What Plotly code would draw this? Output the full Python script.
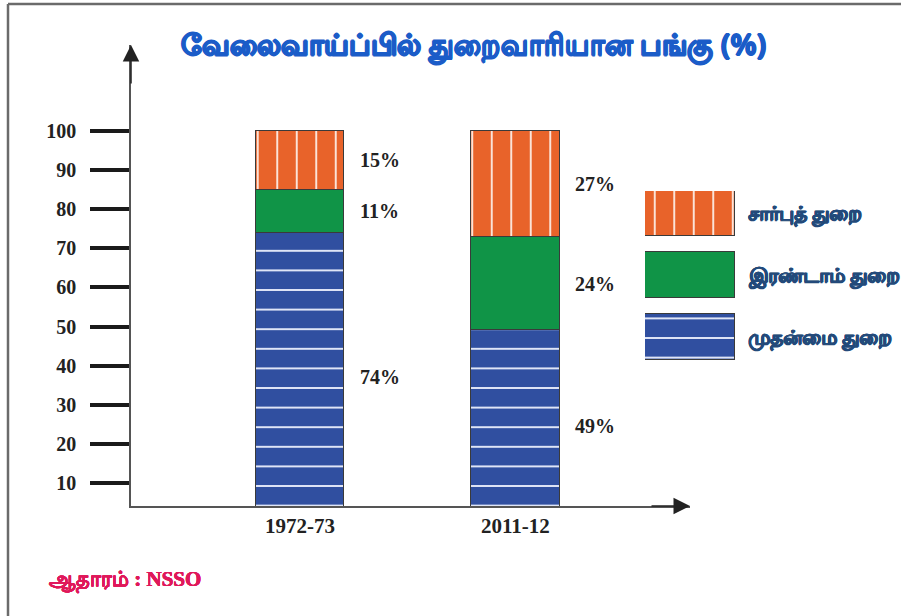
import plotly.graph_objects as go

# ---------------- data ----------------
years = ["1972-73", "2011-12"]
sectors = ["முதன்மை துறை", "இரண்டாம் துறை", "சார்புத் துறை"]
primary = [74, 49]
secondary = [11, 24]
tertiary = [15, 27]
y_ticks = [10, 20, 30, 40, 50, 60, 70, 80, 90, 100]
title_text = "வேலைவாய்ப்பில் துறைவாரியான பங்கு (%)"
source_text = "ஆதாரம் : NSSO"

# ---------------- style ----------------
W, H = 901, 616
PL, PR, PT, PB = 131, 690, 45, 506   # plot area in pixels

ORANGE = "#E8632A"
GREEN = "#109447"
BLUE = "#304FA0"
EDGE = "#3a3a3a"
SERIF = "Liberation Serif, DejaVu Serif, serif"
SANS = "Noto Sans, DejaVu Sans, sans-serif"

def px_x(px):
    return px / W

def px_y(py):
    return (H - py) / H

def thick(color, d=0.7):
    return f"{d}px 0 0 {color}, -{d}px 0 0 {color}, 0 {d}px 0 {color}, 0 -{d}px 0 {color}"

series = [
    (sectors[0], primary, BLUE, dict(shape="-", fgcolor="#dfe5f7", bgcolor=BLUE, size=19.6, solidity=0.1, fillmode="replace")),
    (sectors[1], secondary, GREEN, dict(shape="")),
    (sectors[2], tertiary, ORANGE, dict(shape="|", fgcolor="#fbe3d8", bgcolor=ORANGE, size=19.5, solidity=0.1, fillmode="replace")),
]

fig = go.Figure()
for name, vals, col, pat in series:
    fig.add_trace(go.Bar(
        x=years, y=vals, name=name, width=0.41,
        marker=dict(color=col, line=dict(color=EDGE, width=1.2), pattern=pat),
        showlegend=False, hoverinfo="skip",
    ))

# legend swatches drawn as bars on an auxiliary axis
for i, (name, vals, col, pat) in enumerate(reversed(series)):
    fig.add_trace(go.Bar(
        x=[1], y=[i], orientation="h", width=0.73, xaxis="x2", yaxis="y2",
        marker=dict(color=col, line=dict(color=EDGE, width=1.2), pattern=pat),
        showlegend=False, hoverinfo="skip",
    ))

annotations = []
# percentage labels
for xi, yr in enumerate(years):
    cum = 0
    for name, vals, col, pat in series:
        v = vals[xi]
        annotations.append(dict(
            x=yr, y=cum + v / 2, xref="x", yref="y", text=f"{v}%",
            showarrow=False, xanchor="left", yanchor="middle", xshift=58,
            font=dict(family=SERIF, size=20, color="#222222", weight="bold"),
        ))
        cum += v

# legend labels
legend_y_px = [213, 275, 337]
for name, ypx in zip(reversed(sectors), legend_y_px):
    annotations.append(dict(
        x=px_x(746), y=px_y(ypx), xref="paper", yref="paper", text=name,
        showarrow=False, xanchor="left", yanchor="middle",
        font=dict(family=SANS, size=20, color="#234a7a", weight="bold",
                  shadow=thick("#234a7a", 0.5)),
    ))

# title
annotations.append(dict(
    x=px_x(474), y=px_y(45), xref="paper", yref="paper", text=title_text,
    showarrow=False, xanchor="center", yanchor="middle",
    font=dict(family=SANS, size=29, color="#1b5cc8", weight="bold",
              shadow=thick("#1b5cc8", 0.6)),
))
# source
annotations.append(dict(
    x=px_x(47), y=px_y(580), xref="paper", yref="paper", text=source_text,
    showarrow=False, xanchor="left", yanchor="middle",
    font=dict(family=SERIF, size=21, color="#e0185a", weight="bold",
              shadow=thick("#e0185a", 0.3)),
))
# axis arrowheads
annotations.append(dict(
    x=px_x(PL), y=px_y(PT), xref="paper", yref="paper", text="", showarrow=True,
    ax=0, ay=40, axref="pixel", ayref="pixel",
    arrowhead=2, arrowsize=2.2, arrowwidth=1.5, arrowcolor="#222222",
))
annotations.append(dict(
    x=px_x(PR), y=px_y(PB), xref="paper", yref="paper", text="", showarrow=True,
    ax=-40, ay=0, axref="pixel", ayref="pixel",
    arrowhead=2, arrowsize=2.2, arrowwidth=1.5, arrowcolor="#222222",
))

shapes = [
    dict(type="line", xref="paper", yref="paper", x0=px_x(8), x1=px_x(901), y0=px_y(4), y1=px_y(4),
         line=dict(color="#6b6b6b", width=2.5)),
    dict(type="line", xref="paper", yref="paper", x0=px_x(8), x1=px_x(8), y0=px_y(4), y1=px_y(616),
         line=dict(color="#6b6b6b", width=2.5)),
]

fig.update_layout(
    width=W, height=H,
    margin=dict(l=0, r=0, t=0, b=0, pad=0),
    paper_bgcolor="white", plot_bgcolor="rgba(0,0,0,0)",
    barmode="stack", bargap=0,
    showlegend=False,
    annotations=annotations, shapes=shapes,
    xaxis=dict(
        type="category", range=[-0.784, 1.81], domain=[px_x(PL), px_x(PR)], anchor="y",
        showline=True, linecolor="#555555", linewidth=1.5,
        showgrid=False, zeroline=False, ticks="",
        tickfont=dict(family=SERIF, size=21, color="#222222", weight="bold"),
        fixedrange=True,
    ),
    yaxis=dict(
        range=[4.12, 122.0], domain=[px_y(PB), px_y(PT)], anchor="x",
        showline=True, linecolor="#555555", linewidth=1.5,
        showgrid=False, zeroline=False,
        tickvals=y_ticks, ticktext=[str(v) for v in y_ticks],
        ticks="outside", ticklen=39, tickwidth=4, tickcolor="#1a1a1a",
        ticklabelstandoff=10,
        tickfont=dict(family=SERIF, size=20, color="#222222", weight="bold"),
        fixedrange=True,
    ),
    xaxis2=dict(
        domain=[px_x(645), px_x(735)], range=[0, 1], anchor="y2",
        visible=False, fixedrange=True,
    ),
    yaxis2=dict(
        domain=[px_y(360), px_y(191)], range=[2.37, -0.355], anchor="x2",
        visible=False, fixedrange=True,
    ),
)

fig.write_html("out.html")
